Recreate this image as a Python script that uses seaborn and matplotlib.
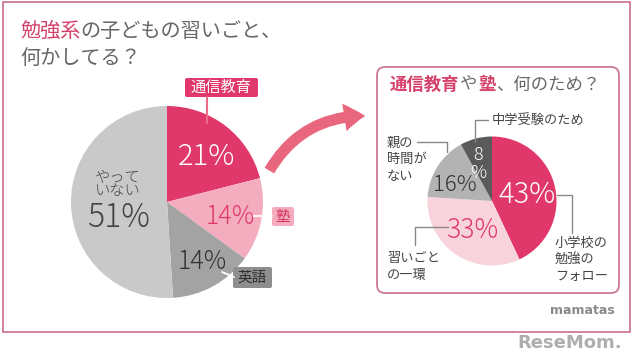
import matplotlib
matplotlib.use("Agg")
import matplotlib.pyplot as plt
import seaborn as sns
from matplotlib.patches import FancyBboxPatch, FancyArrowPatch, Rectangle

sns.set_theme(style="white")
plt.rcParams['font.family'] = ['Noto Sans CJK JP', 'DejaVu Sans']

# ---- data ----
left_labels = ["通信教育", "塾", "英語", "やっていない"]
left_values = [21, 14, 14, 51]
right_labels = ["小学校の勉強のフォロー", "習いごとの一環", "親の時間がない", "中学受験のため"]
right_values = [43, 33, 16, 8]

PINK = "#e0386a"
TITLE_PINK = "#d6416c"
left_colors = [PINK, "#f3adbf", "#a3a3a3", "#c9c9c9"]
right_colors = [PINK, "#f8d3db", "#b3b3b3", "#5a5a5a"]
LW = 'light'

W, H = 640, 362
fig = plt.figure(figsize=(6.4, 3.62), dpi=100)
ax = fig.add_axes([0, 0, 1, 1])

def Y(y):
    return H - y

# pies
ax.pie(left_values, colors=left_colors, startangle=90, counterclock=False,
       center=(167, Y(202)), radius=96, wedgeprops=dict(linewidth=0))
ax.pie(right_values, colors=right_colors, startangle=90, counterclock=False,
       center=(492, Y(201)), radius=64.5, wedgeprops=dict(linewidth=0))
ax.set_xlim(0, W)
ax.set_ylim(0, H)
ax.set_aspect('auto')
ax.axis('off')

# outer frame
ax.add_patch(Rectangle((3, Y(332)), 627, 330, fill=False, edgecolor="#c9708a", linewidth=1.2))
# right rounded box
ax.add_patch(FancyBboxPatch((377, Y(293)), 242, 226, boxstyle="round,pad=0,rounding_size=8",
                            fill=False, edgecolor="#c9708a", linewidth=1.2))

# title
ax.text(20, Y(31), "勉強系", color=TITLE_PINK, fontsize=14.5, va='center', ha='left')
ax.text(80, Y(31), "の子どもの習いごと、", color="#666666", fontsize=14.5, va='center', ha='left')
ax.text(20, Y(58), "何かしてる？", color="#666666", fontsize=14.5, va='center', ha='left')

# left pie labels
ax.add_patch(FancyBboxPatch((185, Y(97)), 73, 19, boxstyle="round,pad=0,rounding_size=2",
                            facecolor=PINK, edgecolor='none'))
ax.plot([207, 207], [Y(97), Y(123)], color="#f06a8a", linewidth=1.5)
ax.text(221.5, Y(87.5), left_labels[0], color='white', fontsize=11, ha='center', va='center')
ax.text(207, Y(157), f"{left_values[0]}%", color='white', fontsize=21, ha='center', va='center',
        fontweight=LW)

ax.plot([252, 272], [Y(216), Y(216)], color='white', linewidth=1.3)
ax.add_patch(FancyBboxPatch((272, Y(226)), 22, 19, boxstyle="round,pad=0,rounding_size=2",
                            facecolor="#f3adbf", edgecolor='none'))
ax.text(283, Y(216.5), left_labels[1], color="#d8325f", fontsize=10.5, ha='center', va='center')
ax.text(230, Y(217), f"{left_values[1]}%", color="#e0386a", fontsize=18, ha='center', va='center',
        fontweight=LW)

ax.plot([222, 234], [Y(272), Y(277)], color='white', linewidth=1.3)
ax.add_patch(FancyBboxPatch((233, Y(288)), 39, 21, boxstyle="round,pad=0,rounding_size=2",
                            facecolor="#8e8e8e", edgecolor='none'))
ax.text(252.5, Y(277.5), left_labels[2], color="#2e2e2e", fontsize=10.5, ha='center', va='center')
ax.text(202, Y(262), f"{left_values[2]}%", color="#333333", fontsize=18, ha='center', va='center',
        fontweight=LW)

ax.text(118, Y(184), "やって\nいない", color="#444444", fontsize=11, ha='center', va='center',
        linespacing=1.0, fontweight=LW)
ax.text(118, Y(218), f"{left_values[3]}%", color="#444444", fontsize=23, ha='center', va='center',
        fontweight=LW)

# arrow
arr = FancyArrowPatch((268, Y(173)), (368, Y(116)),
                      connectionstyle="arc3,rad=-0.3",
                      arrowstyle="simple,head_width=20,head_length=15,tail_width=8",
                      color="#e8677f", linewidth=0, mutation_scale=1)
ax.add_patch(arr)

# right box title
ax.text(390, Y(85), "通信教育", color=TITLE_PINK, fontsize=12.5, fontweight='bold', ha='left', va='center')
ax.text(460, Y(85), "や", color="#666666", fontsize=12.5, ha='left', va='center')
ax.text(478, Y(85), "塾", color=TITLE_PINK, fontsize=12.5, fontweight='bold', ha='left', va='center')
ax.text(496, Y(85), "、何のため？", color="#666666", fontsize=12.5, ha='left', va='center')

# right pie labels
ax.text(527, Y(195), f"{right_values[0]}%", color='white', fontsize=21, ha='center', va='center',
        fontweight=LW)
ax.text(472, Y(230), f"{right_values[1]}%", color=PINK, fontsize=19, ha='center', va='center',
        fontweight=LW)
ax.text(455, Y(185), f"{right_values[2]}%", color="#333333", fontsize=16, ha='center', va='center',
        fontweight=LW)
ax.text(478.5, Y(164), f"{right_values[3]}\n%", color='white', fontsize=13, ha='center', va='center',
        fontweight=LW, linespacing=0.95)

lc = "#888888"
# 中学受験
ax.plot([475, 475, 488], [Y(142), Y(120), Y(120)], color=lc, linewidth=1)
ax.text(492, Y(120), "中学受験のため", color="#444444", fontsize=9.5, ha='left', va='center')
# 親の時間がない
ax.plot([417, 447, 447], [Y(142), Y(142), Y(152)], color=lc, linewidth=1)
ax.text(387, Y(160), "親の\n時間が\nない", color="#444444", fontsize=9.5, ha='left', va='center',
        linespacing=1.35)
# 習いごとの一環
ax.plot([415, 415, 448], [Y(245), Y(227), Y(227)], color=lc, linewidth=1)
ax.text(387, Y(267), "習いごと\nの一環", color="#444444", fontsize=9.5, ha='left', va='center',
        linespacing=1.35)
# 小学校の勉強のフォロー
ax.plot([557, 572, 572], [Y(195), Y(195), Y(233)], color=lc, linewidth=1)
ax.text(555, Y(260), "小学校の\n勉強の\nフォロー", color="#444444", fontsize=9.5, ha='left', va='center',
        linespacing=1.35)

# brand marks
ax.text(615, Y(310), "mamatas", color="#8a8a8a", fontsize=9, fontweight='bold', ha='right', va='center',
        family=['DejaVu Sans'])
ax.text(622, Y(343), "ReseMom.", color="#9a9a9a", fontsize=13, fontweight='bold', ha='right', va='center',
        family=['DejaVu Sans'], alpha=0.8)

fig.savefig("out.png", dpi=100, facecolor='white')
